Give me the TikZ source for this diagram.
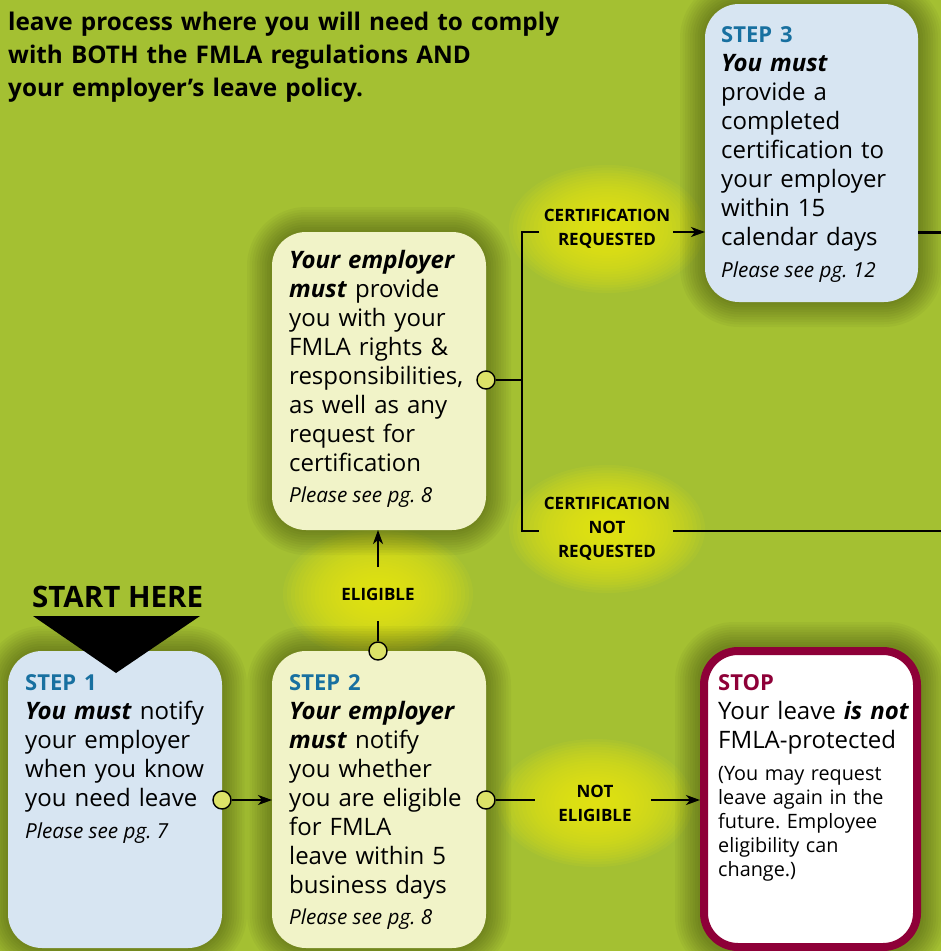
\documentclass[tikz,border=0pt]{standalone}
\usepackage{fontspec}
\setmainfont{Open Sans}
\usetikzlibrary{arrows.meta,calc}
\frenchspacing
\definecolor{bg}{RGB}{164,192,50}
\definecolor{glowc}{RGB}{236,234,18}
\definecolor{boxblue}{RGB}{215,229,242}
\definecolor{boxyel}{RGB}{241,243,200}
\definecolor{circc}{RGB}{221,227,104}
\definecolor{stepblue}{RGB}{24,112,160}
\definecolor{maroon}{RGB}{142,0,56}
\newcommand\fBody{\fontsize{24}{29}\selectfont}
\newcommand\fPg{\fontsize{20.7}{24}\selectfont\itshape}
\newcommand\fSmall{\fontsize{19.8}{24}\selectfont}
\newcommand\fLab{\fontsize{17}{24}\selectfont\bfseries}
\newcommand\fHead{\fontsize{24.3}{33.3}\selectfont\bfseries}
\newcommand\bi[1]{\textbf{\textit{#1}}}
\newcommand\stp[1]{{\color{stepblue}\bfseries\fontsize{22}{29}\selectfont #1}}
\newcommand\boxshadow[4]{%
  \foreach \i in {1,...,10}{%
    \pgfmathsetmacro\rr{34+\i*2.5}%
    \fill[black,opacity=0.03,rounded corners=\rr pt] ({#1-\i*2.5},{#2-\i*2.5}) rectangle ({#3+\i*2.5},{#4+\i*2.5});}}
\newcommand\glowat[4]{%
  \foreach \i in {1,...,24}{%
    \pgfmathsetmacro\gx{#3*\i/24}%
    \pgfmathsetmacro\gy{#4*\i/24}%
    \fill[glowc,opacity=0.09] (#1,#2) ellipse [x radius=\gx, y radius=\gy];}}
\tikzset{
  box/.style={anchor=north west, inner sep=0, outer sep=0, rounded corners=34pt, minimum width=214pt, minimum height=297pt},
  txt/.style={anchor=base west, inner sep=0, align=left, text width=205pt, font=\fBody},
  pg/.style={anchor=base west, inner sep=0, font=\fPg},
  lab/.style={inner sep=0, align=center, font=\fLab},
  circ/.style={circle, draw=black, fill=circc, line width=1.4pt, minimum size=18pt, inner sep=0},
  conn/.style={draw=black, line width=1.6pt},
  arr/.style={conn, -{Stealth[length=14pt,width=10pt,inset=4pt]}}
}
\begin{document}
\begin{tikzpicture}[x=1pt,y=-1pt]
\useasboundingbox (0,0) rectangle (941,951);
\fill[bg] (0,0) rectangle (941,951);
% glows
\glowat{607}{229}{98}{64}
\glowat{607}{529}{98}{64}
\glowat{378}{594}{95}{66}
\glowat{595}{803}{98}{64}
% shadows
\boxshadow{8}{651}{222}{948}
\boxshadow{272}{651}{486}{948}
\boxshadow{272}{232}{486}{530}
\boxshadow{705}{4}{918}{302}
\boxshadow{700}{647}{921}{951}
% header
\node[anchor=base west, inner sep=0, align=left, text width=600pt, font=\fHead] (head) at (8,30) {leave process where you will need to comply\\with BOTH the FMLA regulations AND\\your employer’s leave policy.};
% boxes
\node[box, fill=boxblue] (s1) at (8,651) {};
\node[box, fill=boxyel] (s2) at (272,651) {};
\node[box, fill=boxyel, minimum height=298pt] (el) at (272,232) {};
\node[box, fill=boxblue, minimum width=213pt, minimum height=298pt] (s3) at (705,4) {};
\node[box, fill=white, draw=maroon, line width=8pt, minimum width=213pt, minimum height=296pt] (st) at (704,651) {};
% start here
\node[anchor=base west, inner sep=0, font=\fontsize{29.5}{31}\selectfont\bfseries] (start) at (32,607) {START HERE};
\coordinate (tl) at (33,616);
\coordinate (tr) at (200,616);
\coordinate (tp) at (116,673);
\fill[black] (tl) -- (tr) -- (tp) -- cycle;
% texts
\node[txt] (s1t) at (25,690) {\stp{STEP 1}\\ \bi{You must} notify\\ your employer\\ when you know\\ you need leave};
\node[pg] (s1p) at (25,838) {Please see pg. 7};
\node[txt] (s2t) at (289,690) {\stp{STEP 2}\\ \bi{Your employer}\\ \bi{must} notify\\ you whether\\ you are eligible\\ for FMLA\\ leave within 5\\ business days};
\node[pg] (s2p) at (289,924) {Please see pg. 8};
\node[txt] (elt) at (289,268) {\bi{Your employer}\\ \bi{must} provide\\ you with your\\ FMLA rights \&\\ responsibilities,\\ as well as any\\ request for\\ certification};
\node[pg] (elp) at (289,502) {Please see pg. 8};
\node[txt] (s3t) at (721,42) {\stp{STEP 3}\\ \bi{You must}\\ provide a\\ completed\\ certification to\\ your employer\\ within 15\\ calendar days};
\node[pg] (s3p) at (721,277) {Please see pg. 12};
\node[txt] (stt) at (718,690) {{\color{maroon}\bfseries\fontsize{22}{29}\selectfont STOP}\\ Your leave \bi{is not}\\ FMLA-protected};
\node[txt, font=\fSmall] (sts) at (718,780) {(You may request\\ leave again in the\\ future. Employee\\ eligibility can\\ change.)};
% labels
\node[lab] (lcr) at (607,229) {CERTIFICATION\\REQUESTED};
\node[lab] (lcnr) at (607,529) {CERTIFICATION\\NOT\\REQUESTED};
\node[lab] (lel) at (378,594) {ELIGIBLE};
\node[lab] (lne) at (595,803) {NOT\\ELIGIBLE};
% circles
\node[circ] (c1) at (222,800) {};
\node[circ] (c2) at (486,800) {};
\node[circ] (c3) at (378,651) {};
\node[circ] (c4) at (486,380) {};
% connector coordinates
\coordinate (j) at (522,380);
\coordinate (jt) at (522,232);
\coordinate (jb) at (522,531);
\coordinate (jt2) at (539,232);
\coordinate (jb2) at (539,531);
\coordinate (cr1) at (673,232);
\coordinate (cnr1) at (673,531);
\coordinate (cnr2) at (941,531);
\coordinate (s3r) at (941,232);
\coordinate (ne1) at (535,800);
\coordinate (ne2) at (651,800);
\coordinate (el1) at (378,621);
\coordinate (el2) at (378,567);
% connectors
\draw[arr] (c1) -- (c1 -| s2.west);
\draw[conn] (c2) -- (ne1);
\draw[arr] (ne2) -- ([xshift=-4pt]st.west |- ne2);
\draw[conn] (c3) -- (el1);
\draw[arr] (el2) -- (el2 |- el.south);
\draw[conn] (c4) -- (j);
\draw[conn] (jt2) -- (jt) -- (jb) -- (jb2);
\draw[arr] (cr1) -- (cr1 -| s3.west);
\draw[conn] (cnr1) -- (cnr2);
\draw[draw=black, line width=3pt] (s3r -| s3.east) -- (s3r);
\end{tikzpicture}
\end{document}
